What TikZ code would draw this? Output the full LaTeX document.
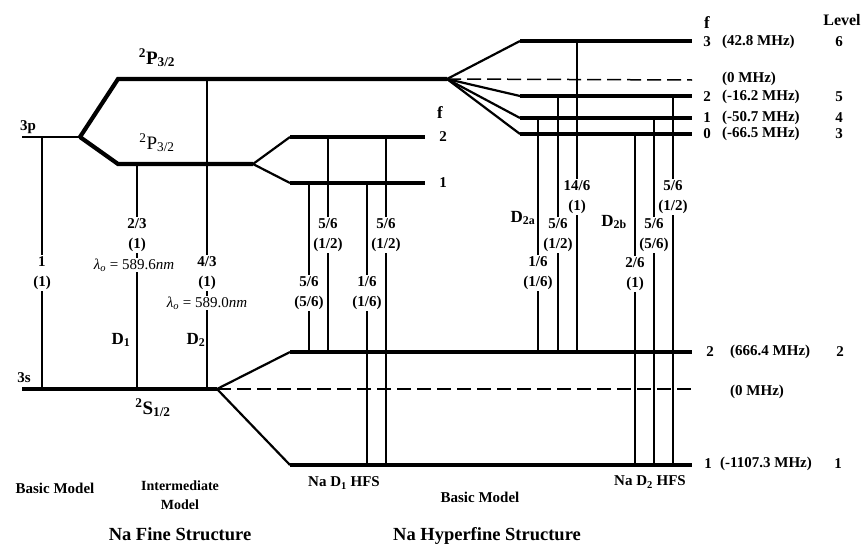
\documentclass[tikz,border=0pt]{standalone}
\usepackage{fontspec}
\setmainfont{Liberation Serif}
\begin{document}
\begin{tikzpicture}[x=1pt,y=-1pt,
  thk/.style={line width=4.2pt},
  lvl/.style={line width=3.2pt},
  fan/.style={line width=2.2pt},
  thin/.style={line width=1.9pt},
  trans/.style={line width=1.2pt},
  dsh/.style={line width=1.5pt, dash pattern=on 14pt off 6pt},
  lab/.style={font=\bfseries\fontsize{15}{20}\selectfont, align=center, fill=white, inner sep=1pt},
  txt/.style={font=\bfseries\fontsize{15}{19}\selectfont, align=center, inner sep=0pt},
  dl/.style={font=\bfseries\fontsize{17}{20}\selectfont, inner sep=0pt},
  ttl/.style={font=\bfseries\fontsize{18.5}{22}\selectfont, inner sep=0pt},
  term/.style={font=\bfseries\fontsize{19}{22}\selectfont, inner sep=0pt},
  lam/.style={font=\fontsize{15}{20}\selectfont, fill=white, inner sep=1pt}
]
\useasboundingbox (0,0) rectangle (867,546);
% coordinates
\coordinate (p3a) at (22,137); \coordinate (p3b) at (80,137);
\coordinate (P32a) at (118,79); \coordinate (P32b) at (447,79);
\coordinate (P12a) at (118,164); \coordinate (P12b) at (253,164);
\coordinate (s3a) at (22,389); \coordinate (s3b) at (217,389);
\coordinate (u2a) at (290,137); \coordinate (u2b) at (425,137);
\coordinate (u1a) at (290,183); \coordinate (u1b) at (425,183);
\coordinate (l2a) at (290,352); \coordinate (l2b) at (692,352);
\coordinate (l1a) at (290,465); \coordinate (l1b) at (692,465);
\coordinate (l0b) at (692,389);
\coordinate (h3a) at (520,41); \coordinate (h3b) at (692,41);
\coordinate (h2a) at (520,96); \coordinate (h2b) at (692,96);
\coordinate (h1a) at (520,118); \coordinate (h1b) at (692,118);
\coordinate (h0a) at (520,134); \coordinate (h0b) at (692,134);
\coordinate (h00b) at (692,80);

% transitions (drawn first)
\draw[trans] (42,137) -- (42,389);
\draw[trans] (137,164) -- (137,389);
\draw[trans] (207,79) -- (207,389);
\draw[trans] (309,183) -- (309,352);
\draw[trans] (328,137) -- (328,352);
\draw[trans] (367,183) -- (367,465);
\draw[trans] (386,137) -- (386,465);
\draw[trans] (538,118) -- (538,352);
\draw[trans] (558,96) -- (558,352);
\draw[trans] (577,41) -- (577,352);
\draw[trans] (635,134) -- (635,465);
\draw[trans] (654,118) -- (654,465);
\draw[trans] (673,96) -- (673,465);

% fine structure
\draw[thin] (p3a) -- (p3b);
\draw[thk] (p3b) -- (P32a) -- (P32b);
\draw[thk] (p3b) -- (P12a) -- (P12b);
\draw[thk] (s3a) -- (s3b);
% D1 hfs upper
\draw[fan] (P12b) -- (u2a); \draw[fan] (P12b) -- (u1a);
\draw[lvl] (u2a) -- (u2b); \draw[lvl] (u1a) -- (u1b);
% lower hfs
\draw[fan] (s3b) -- (l2a); \draw[fan] (s3b) -- (l1a);
\draw[lvl] (l2a) -- (l2b); \draw[lvl] (l1a) -- (l1b);
\draw[dsh] (s3b) -- (l0b);
% D2 hfs upper
\draw[fan] (P32b) -- (h3a); \draw[fan] (P32b) -- (h2a);
\draw[fan] (P32b) -- (h1a); \draw[fan] (P32b) -- (h0a);
\draw[lvl] (h3a) -- (h3b); \draw[lvl] (h2a) -- (h2b);
\draw[lvl] (h1a) -- (h1b); \draw[lvl] (h0a) -- (h0b);
\draw[dsh] (P32b) -- (h00b);

% labels on transitions
\node[lab] (t1) at (42,273) {1\\(1)};
\node[lab] (t2) at (137,235) {2/3\\(1)};
\node[lam] (t2l) at (134,265) {\itshape λ\textsubscript{o} \upshape = 589.6\itshape nm};
\node[lab] (t3) at (207,273) {4/3\\(1)};
\node[lam] (t3l) at (207,303) {\itshape λ\textsubscript{o} \upshape = 589.0\itshape nm};
\node[lab] (a1) at (309,293) {5/6\\(5/6)};
\node[lab] (a2) at (328,235) {5/6\\(1/2)};
\node[lab] (a3) at (367,293) {1/6\\(1/6)};
\node[lab] (a4) at (386,235) {5/6\\(1/2)};
\node[lab] (b1) at (538,273) {1/6\\(1/6)};
\node[lab] (b2) at (558,235) {5/6\\(1/2)};
\node[lab] (b3) at (577,197) {14/6\\(1)};
\node[lab] (c1) at (635,274) {2/6\\(1)};
\node[lab] (c2) at (654,235) {5/6\\(5/6)};
\node[lab] (c3) at (673,197) {5/6\\(1/2)};

\node[dl] (D1) at (121,340) {D\textsubscript{1}};
\node[dl] (D2) at (196,340) {D\textsubscript{2}};
\node[dl] (D2a) at (523,218) {D\textsubscript{2a}};
\node[dl] (D2b) at (614,222) {D\textsubscript{2b}};

% term labels
\node[txt] (l3p) at (28,127) {3p};
\node[txt] (l3s) at (24,378) {3s};
\node[term] (tP32) at (157,58) {\textsuperscript{2}P\textsubscript{3/2}};
\node[term,font=\fontsize{19}{22}\selectfont] (tP12) at (157,143) {\textsuperscript{2}P\textsubscript{3/2}};
\node[term] (tS12) at (153,408) {\textsuperscript{2}S\textsubscript{1/2}};

% D1 f labels
\node[dl] (f1) at (440,113) {f};
\node[txt] (f1a) at (443,137) {2};
\node[txt] (f1b) at (443,183) {1};

% right labels
\node[dl] (fR) at (707,23) {f};
\node[txt,font=\bfseries\fontsize{16}{19}\selectfont] (lev) at (842,20) {Level};
\node[txt] at (707,42) {3}; \node[txt,anchor=west] at (722,42) {(42.8 MHz)}; \node[txt] at (839,42) {6};
\node[txt,anchor=west] at (722,79) {(0 MHz)};
\node[txt] at (707,97) {2}; \node[txt,anchor=west] at (722,97) {(-16.2 MHz)}; \node[txt] at (839,97) {5};
\node[txt] at (707,118) {1}; \node[txt,anchor=west] at (722,118) {(-50.7 MHz)}; \node[txt] at (839,118) {4};
\node[txt] at (707,134) {0}; \node[txt,anchor=west] at (722,134) {(-66.5 MHz)}; \node[txt] at (839,134) {3};
\node[txt] at (710,352) {2}; \node[txt,anchor=west] at (730,352) {(666.4 MHz)}; \node[txt] at (840,352) {2};
\node[txt,anchor=west] at (730,392) {(0 MHz)};
\node[txt] at (708,464) {1}; \node[txt,anchor=west] at (720,464) {(-1107.3 MHz)}; \node[txt] at (838,464) {1};

% bottom labels
\node[txt] (bm1) at (55,488) {Basic Model};
\node[txt,font=\bfseries\fontsize{14}{19}\selectfont] (im) at (180,495) {Intermediate\\Model};
\node[txt] (d1h) at (344,483) {Na D\textsubscript{1} HFS};
\node[txt] (bm2) at (480,497) {Basic Model};
\node[txt] (d2h) at (650,482) {Na D\textsubscript{2} HFS};
\node[ttl] (nfs) at (180,534) {Na Fine Structure};
\node[ttl] (nhs) at (487,536) {Na Hyperfine Structure};
\end{tikzpicture}
\end{document}
